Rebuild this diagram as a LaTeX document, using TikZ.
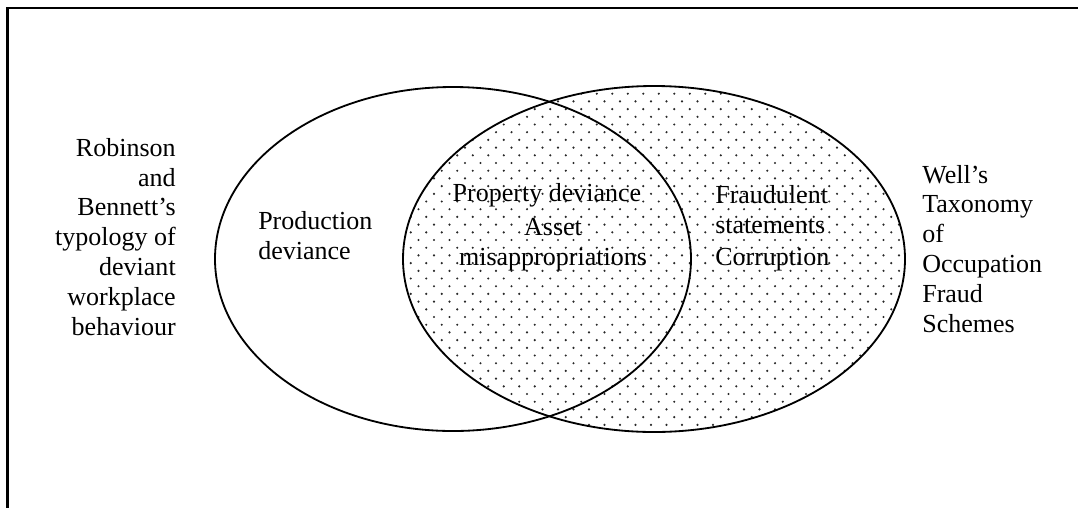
\documentclass[tikz,border=0pt]{standalone}
\usepackage{fontspec}
\setmainfont{Liberation Serif}
\usetikzlibrary{positioning}
\definecolor{dotgrey}{RGB}{40,40,40}

\begin{document}
\begin{tikzpicture}[x=0.025cm,y=-0.025cm,
    txt/.style={font=\fontsize{18.5}{21.3}\selectfont,inner sep=0pt},
    ring/.style={line width=1.3pt}]
  \useasboundingbox (0,0) rectangle (1078,508);
  % dotted fill of the fraud set
  \begin{scope}
    \clip (654,259) ellipse [x radius=251, y radius=173];
    \foreach \r in {0,...,45}
      \foreach \c in {0,...,33}
        \fill[dotgrey] ({403+\c*15.5+mod(\r,2)*7.75},{86+\r*7.7}) circle (1.2);
  \end{scope}
  \draw[ring] (453,259) ellipse [x radius=238, y radius=172];
  \draw[ring] (654,259) ellipse [x radius=251, y radius=173];
  % frame
  \draw[line width=1.5pt] (1078,8) -- (7.5,8) -- (7.5,508);
  % side labels
  \node[txt,align=right,anchor=east] (rb) at (176,237)
    {Robinson\\and\\Bennett’s\\typology of\\deviant\\workplace\\behaviour};
  \node[txt,align=left,anchor=west] (wt) at (922,249)
    {Well’s\\Taxonomy\\of\\Occupation\\Fraud\\Schemes};
  % set members
  \node[txt,align=left,anchor=west] (pd) at (258,236) {Production\\deviance};
  \node[txt] (prop) at (547,195) {Property deviance};
  \node[txt,align=center] (am) at (553,245) {Asset\\misappropriations};
  \node[txt,align=left,anchor=west] (fs) at (715,210) {Fraudulent\\statements};
  \node[txt,anchor=west] (cor) at (715,260) {Corruption};
\end{tikzpicture}
\end{document}
